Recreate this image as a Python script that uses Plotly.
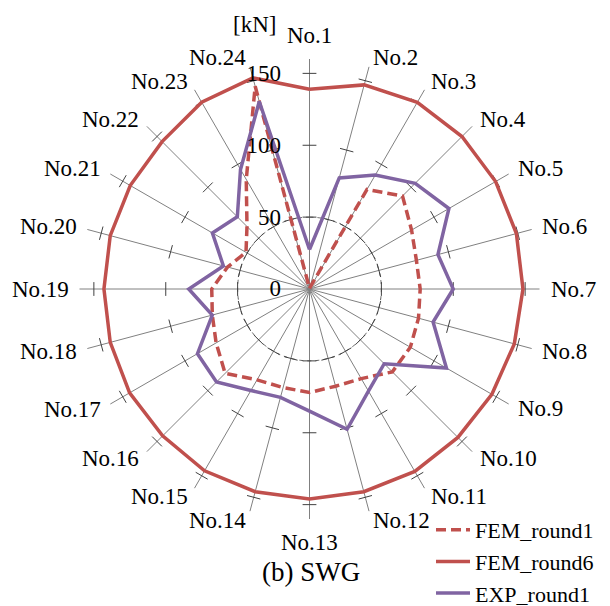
import numpy as np
import plotly.graph_objects as go

categories = [f"No.{i}" for i in range(1, 25)]
angles = [i * 15 for i in range(24)]

fem_round1 = [0.5, 1, 80, 91.5, 82, 77, 77, 78.5, 81, 81.5, 72, 70,
              72, 71, 73, 83, 75, 70, 68, 59, 51, 61.5, 88, 146]
fem_round6 = [139, 147, 150, 150, 149.5, 149, 148.5, 147.5, 146.5, 146, 146.5, 146,
              146, 146, 146, 144.5, 144.5, 143.5, 143, 143.5, 144, 145, 150, 152]
exp_round1 = [27.5, 80, 91.5, 104, 112, 92.5, 100, 89, 110, 73.5, 82, 101,
              85, 78, 81.5, 91.5, 90, 70, 84, 62, 78, 71, 96, 135]

radial_ticks = [0, 50, 100, 150]
radial_ticktext = ["0", "50", "100", "150"]

RED = "#C0504D"
PURPLE = "#8064A2"
SERIF = "Liberation Serif"
FS = 23

fig = go.Figure()

# dashed grid circle at r=50
circ_t = np.linspace(0, 360, 361)
fig.add_trace(go.Scatterpolar(r=[radial_ticks[1]] * len(circ_t), theta=circ_t, mode="lines",
                              line=dict(color="#606060", width=1, dash="4px,4px"),
                              showlegend=False, hoverinfo="skip"))

# tick marks on every spoke
h = 4.8
tr, tt = [], []
for a in angles:
    for rv in radial_ticks[1:]:
        rr = float(np.hypot(rv, h))
        da = float(np.degrees(np.arctan(h / rv)))
        tr += [rr, rr, None]
        tt += [a - da, a + da, None]
fig.add_trace(go.Scatterpolar(r=tr, theta=tt, mode="lines",
                              line=dict(color="#404040", width=1),
                              showlegend=False, hoverinfo="skip", connectgaps=False))

def closed(v):
    return list(v) + [v[0]]

fig.add_trace(go.Scatterpolar(r=closed(fem_round1), theta=closed(angles), mode="lines",
                              name="FEM_round1",
                              line=dict(color=RED, width=3.5, dash="10px,5px")))
fig.add_trace(go.Scatterpolar(r=closed(fem_round6), theta=closed(angles), mode="lines",
                              name="FEM_round6",
                              line=dict(color=RED, width=3.5)))
fig.add_trace(go.Scatterpolar(r=closed(exp_round1), theta=closed(angles), mode="lines",
                              name="EXP_round1",
                              line=dict(color=PURPLE, width=3.5)))

# page has an 8px body margin; figure coordinates are page coordinates minus 8
OFF = 8
W, H = 610 - OFF, 606 - OFF
cx, cy, R = 309.5 - OFF, 289 - OFF, 230

def px(x):
    return (x - OFF) / W

def py(y):
    return 1 - (y - OFF) / H

annotations = [
    dict(text="(b) SWG", x=px(311), y=py(572), xref="paper", yref="paper",
         showarrow=False, font=dict(family=SERIF, size=27, color="black"),
         xanchor="center", yanchor="middle"),
    dict(text="[kN]", x=px(254), y=py(25), xref="paper", yref="paper",
         showarrow=False, font=dict(family=SERIF, size=FS, color="black"),
         xanchor="center", yanchor="middle"),
]

# category labels placed just beyond the end of each spoke
LR = R + 10
for lab, a in zip(categories, angles):
    t = np.radians(a)
    lx = cx + LR * np.sin(t)
    ly = cy - LR * np.cos(t)
    s, c = np.sin(t), np.cos(t)
    if abs(s) < 0.05:
        xa, ya = "center", ("bottom" if c > 0 else "top")
    else:
        xa, ya = ("left" if s > 0 else "right"), "middle"
    annotations.append(dict(text=lab, x=lx / W, y=1 - ly / H, xref="paper", yref="paper",
                            showarrow=False, xanchor=xa, yanchor=ya, borderpad=0,
                            font=dict(family=SERIF, size=FS, color="black")))

fig.update_layout(
    width=W, height=H,
    margin=dict(l=0, r=0, t=0, b=0, autoexpand=False),
    paper_bgcolor="white",
    font=dict(family=SERIF, size=FS, color="black"),
    polar=dict(
        domain=dict(x=[(cx - R) / W, (cx + R) / W], y=[(H - cy - R) / H, (H - cy + R) / H]),
        bgcolor="white",
        angularaxis=dict(direction="clockwise", rotation=90,
                         tickmode="array", tickvals=angles, ticktext=categories,
                         showticklabels=False,
                         showline=False, showgrid=True, gridcolor="#808080", gridwidth=1,
                         ticks=""),
        radialaxis=dict(range=[0, 160], tickmode="array", tickvals=radial_ticks,
                        ticktext=radial_ticktext, angle=90, tickangle=90,
                        side="counterclockwise", showgrid=False, showline=False,
                        ticks="outside", ticklen=20, tickcolor="rgba(0,0,0,0)",
                        tickfont=dict(family=SERIF, size=FS, color="black")),
    ),
    legend=dict(x=px(431), y=py(509), xanchor="left", yanchor="top",
                font=dict(family=SERIF, size=22, color="black"),
                bgcolor="rgba(0,0,0,0)", itemwidth=34, tracegroupgap=0),
    annotations=annotations,
)

fig.write_html("out.html")
